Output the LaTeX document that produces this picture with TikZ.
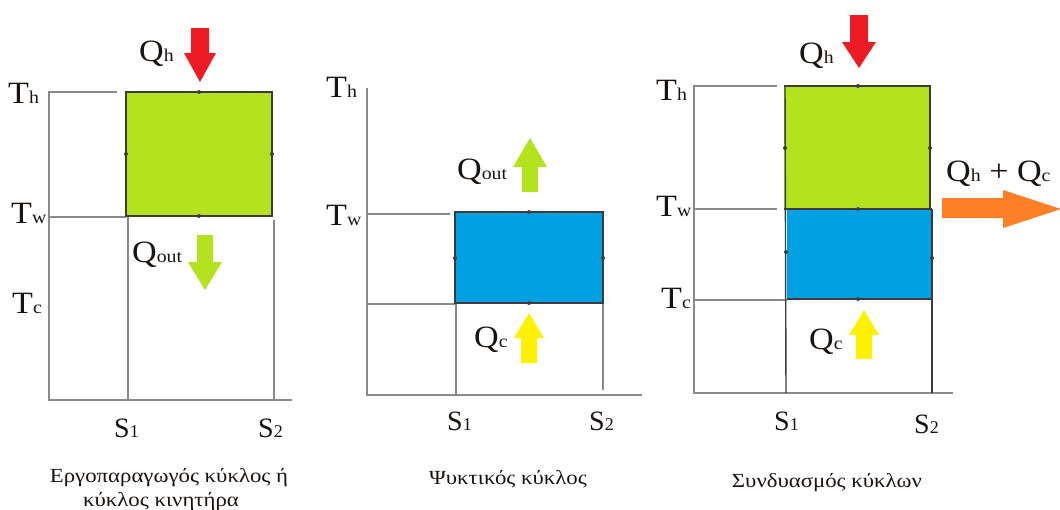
\documentclass[tikz,border=0pt]{standalone}
\usepackage{graphicx}
\usepackage{fontspec}
\setmainfont{Liberation Serif}
\definecolor{cgreen}{HTML}{B4E21E}
\definecolor{cblue}{HTML}{00A0E2}
\definecolor{cred}{HTML}{ED1C24}
\definecolor{cyellow}{HTML}{FFF200}
\definecolor{corange}{HTML}{FF7F27}
\definecolor{caxis}{HTML}{8A8A8A}
\definecolor{cedge}{HTML}{3C3C3C}
\definecolor{ctext}{HTML}{1A1410}
\newcommand{\symlbl}[2]{\scalebox{1.1}[1]{{\fontsize{31}{31}\selectfont #1}{\fontsize{18}{18}\selectfont #2}}}
\newcommand{\slbl}[2]{{\fontsize{28}{28}\selectfont #1}{\fontsize{18}{18}\selectfont #2}}
\newcommand{\captext}[1]{\scalebox{1.14}[1]{#1}}
\newcommand{\vertarrow}[7]{% colour, cx, ytop, yheadbase, ytip, shaftw, headw
  \fill[#1] ({#2-#6/2},#3) -- ({#2+#6/2},#3) -- ({#2+#6/2},#4) -- ({#2+#7/2},#4)
    -- (#2,#5) -- ({#2-#7/2},#4) -- ({#2-#6/2},#4) -- cycle;}
\tikzset{
  axisline/.style={draw=caxis, line width=1.8pt},
  edgeline/.style={draw=cedge, line width=1.4pt},
  lbl/.style={anchor=base west, inner sep=0pt, text=ctext},
  captxt/.style={anchor=base, inner sep=0pt, text=ctext, font=\fontsize{20}{22}\selectfont},
  mk/.style={fill=cedge}
}
\begin{document}
\begin{tikzpicture}[x=1pt,y=-1pt]
\useasboundingbox (0,0) rectangle (1060,509);
% ---------------- Panel 1 ----------------
\fill[cgreen] (126,92) rectangle (272,216);
\draw[axisline] (117,92) -- (49,92) -- (49,400) -- (292,400);
\draw[axisline] (49,217) -- (126,217);
\draw[axisline] (128,217) -- (128,400);
\draw[axisline] (274,220) -- (274,400);
\draw[edgeline] (126,92) rectangle (272,216);
\foreach \p in {(199,92),(199,216),(126,154),(272,154)} \fill[mk] \p circle (2pt);
\node[lbl] (a1) at (8,103) {\symlbl{T}{h}};
\node[lbl] (a2) at (11,223) {\symlbl{T}{w}};
\node[lbl] (a3) at (12,313) {\symlbl{T}{c}};
\node[lbl] (a4) at (139,61) {\symlbl{Q}{h}};
\node[lbl] (a5) at (132,262) {\symlbl{Q}{out}};
\node[lbl] (a6) at (114,437) {\slbl{S}{1}};
\node[lbl] (a7) at (258,437) {\slbl{S}{2}};
\vertarrow{cred}{200}{28}{53}{82}{18}{32}
\vertarrow{cgreen}{205}{235}{262}{290}{16}{34}
\node[captxt] (a8) at (169,482) {\captext{Εργοπαραγωγός κύκλος ή}};
\node[captxt] (a9) at (161,506) {\captext{κύκλος κινητήρα}};
% ---------------- Panel 2 ----------------
\fill[cblue] (455,212) rectangle (603,303);
\draw[axisline] (367,88) -- (367,395) -- (642,395);
\draw[axisline] (367,214) -- (450,214);
\draw[axisline] (367,304) -- (455,304);
\draw[axisline] (456,304) -- (456,395);
\draw[axisline] (603,304) -- (603,390);
\draw[edgeline] (455,212) rectangle (603,303);
\foreach \p in {(529,212),(529,303),(455,258),(603,258)} \fill[mk] \p circle (2pt);
\node[lbl] (b1) at (326,97) {\symlbl{T}{h}};
\node[lbl] (b2) at (326,225) {\symlbl{T}{w}};
\node[lbl] (b3) at (457,179) {\symlbl{Q}{out}};
\node[lbl] (b4) at (474,347) {\symlbl{Q}{c}};
\node[lbl] (b5) at (447,430) {\slbl{S}{1}};
\node[lbl] (b6) at (589,430) {\slbl{S}{2}};
\vertarrow{cgreen}{530}{192}{167}{138}{16}{34}
\vertarrow{cyellow}{529}{363}{338}{313}{16}{30}
\node[captxt] (b7) at (508,484) {\captext{Ψυκτικός κύκλος}};
% ---------------- Panel 3 ----------------
\fill[cgreen] (784,86) rectangle (930,209);
\fill[cblue] (787,209) rectangle (932,299);
\draw[axisline] (777,86) -- (694,86) -- (694,393) -- (953,393);
\draw[axisline] (694,209) -- (777,209);
\draw[axisline] (694,300) -- (787,300);
\draw[edgeline] (784,86) -- (930,86) -- (930,209);
\draw[edgeline] (932,209) -- (932,393);
\draw[edgeline] (785,86) -- (786,393);
\draw[edgeline] (784,209) -- (932,209);
\draw[edgeline] (787,299) -- (932,299);
\foreach \p in {(858,86),(858,209),(858,299),(785,148),(930,148),(786,252),(932,258)} \fill[mk] \p circle (2pt);
\node[lbl] (c1) at (656,100) {\symlbl{T}{h}};
\node[lbl] (c2) at (656,216) {\symlbl{T}{w}};
\node[lbl] (c3) at (661,308) {\symlbl{T}{c}};
\node[lbl] (c4) at (799,63) {\symlbl{Q}{h}};
\node[lbl] (c5) at (809,349) {\symlbl{Q}{c}};
\node[lbl] (c6) at (774,430) {\slbl{S}{1}};
\node[lbl] (c7) at (914,433) {\slbl{S}{2}};
\node[lbl] (c8) at (946,181) {\symlbl{Q}{h}\scalebox{1.1}[1]{\fontsize{31}{31}\selectfont\ + }\symlbl{Q}{c}};
\vertarrow{cred}{859}{15}{42}{68}{18}{34}
\vertarrow{cyellow}{864}{359}{335}{310}{16}{30}
\fill[corange] (942,198) -- (1003,198) -- (1003,190) -- (1061,209) -- (1003,228) -- (1003,218) -- (942,218) -- cycle;
\node[captxt] (c9) at (827,487) {\captext{Συνδυασμός κύκλων}};
\end{tikzpicture}
\end{document}
